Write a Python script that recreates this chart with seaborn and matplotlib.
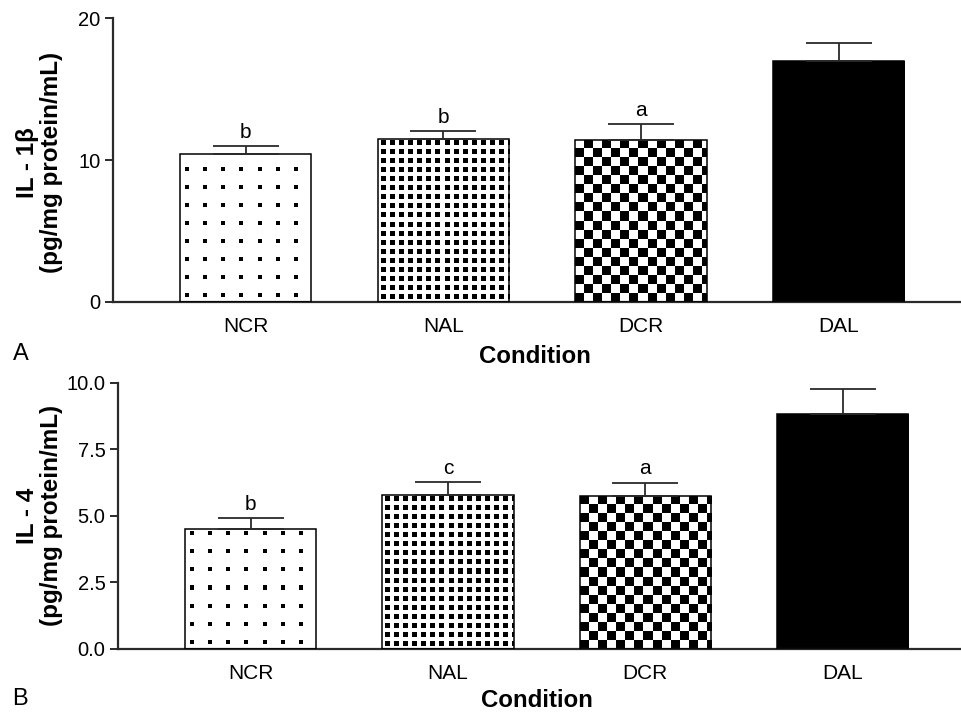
import numpy as np
import pandas as pd
import matplotlib
matplotlib.use("Agg")
import matplotlib.pyplot as plt
import seaborn as sns
from matplotlib.ticker import FormatStrFormatter

sns.set_style("white")
plt.rcParams['font.family'] = ['Liberation Sans', 'DejaVu Sans']
plt.rcParams['text.color'] = 'black'
plt.rcParams['axes.labelcolor'] = 'black'
plt.rcParams['xtick.color'] = 'black'
plt.rcParams['ytick.color'] = 'black'

# ---- data ----
categories = ["NCR", "NAL", "DCR", "DAL"]
il1b_mean = [10.42, 11.48, 11.43, 16.95]
il1b_sem = [0.57, 0.56, 1.11, 1.31]
il1b_letters = ["b", "b", "a", ""]
il4_mean = [4.51, 5.79, 5.76, 8.81]
il4_sem = [0.42, 0.47, 0.49, 0.95]
il4_letters = ["b", "c", "a", ""]
patterns = ["sparse", "dense", "checker", "solid"]

W, H = 961, 715
fig = plt.figure(figsize=(W / 100, H / 100), dpi=100)
ax1 = fig.add_axes([113 / W, 1 - 302 / H, (W - 113) / W, (302 - 18) / H])
ax2 = fig.add_axes([118 / W, 1 - 649 / H, (W - 118) / W, (649 - 382.7) / H])

spine_c = "#2a2a2a"


def texture(h, w, kind):
    yy, xx = np.mgrid[0:h, 0:w]
    img = np.ones((h, w, 3))
    if kind == "sparse":
        m = ((xx - 5) % 18 < 4) & ((yy - 5) % 18 < 4)
    elif kind == "dense":
        m = ((xx - 3) % 9 < 5) & ((yy - 3) % 9 < 5)
    elif kind == "checker":
        m = ((xx // 9) + (yy // 9)) % 2 == 0
    else:
        m = np.ones((h, w), bool)
    img[m] = 0.0
    return img


def panel(ax, means, sems, letters, ylabel, ylim, yticks, fmt, xlim):
    df = pd.DataFrame({"Condition": categories, "value": means})
    sns.barplot(data=df, x="Condition", y="value", hue="Condition",
                palette=["white"] * 4, width=0.665, edgecolor="black",
                linewidth=1.1, errorbar=None, legend=False, ax=ax, zorder=2)
    ax.set_ylim(*ylim)
    ax.set_xlim(*xlim)
    ax.set_yticks(yticks)
    ax.yaxis.set_major_formatter(FormatStrFormatter(fmt))
    bars = [c[0] for c in ax.containers]
    xs = []
    for bar, kind in zip(bars, patterns):
        x0, y0 = bar.get_x(), bar.get_y()
        bw, bh = bar.get_width(), bar.get_height()
        xs.append(x0 + bw / 2)
        p0 = ax.transData.transform((x0, y0))
        p1 = ax.transData.transform((x0 + bw, y0 + bh))
        wpx = max(int(round(p1[0] - p0[0])), 1)
        hpx = max(int(round(p1[1] - p0[1])), 1)
        im = ax.imshow(texture(hpx, wpx, kind), extent=(x0, x0 + bw, y0, y0 + bh),
                       origin="lower", interpolation="none", aspect="auto",
                       zorder=2)
        im.set_clip_path(bar)
        bar.set_facecolor("none")
        bar.set_zorder(3)
    ax.set_aspect("auto")
    ax.set_ylim(*ylim)
    ax.set_xlim(*xlim)
    ax.errorbar(xs, means, yerr=[np.zeros(len(means)), sems], fmt="none",
                ecolor=spine_c, elinewidth=1.3, capsize=23.5, capthick=1.3,
                zorder=4)
    for x, m, s, t in zip(xs, means, sems, letters):
        if t:
            ax.annotate(t, (x, m + s), xytext=(0, 3), textcoords="offset points",
                        ha="center", va="bottom", fontsize=15)
    for s in ["top", "right"]:
        ax.spines[s].set_visible(False)
    for s in ["left", "bottom"]:
        ax.spines[s].set_color(spine_c)
        ax.spines[s].set_linewidth(1.6)
    ax.tick_params(axis="y", direction="out", length=6, width=1.4, color=spine_c,
                   pad=3, labelsize=14.5, left=True)
    ax.tick_params(axis="x", length=0, pad=11, labelsize=15)
    ax.set_ylabel(ylabel, fontsize=17.5, fontweight="bold", linespacing=1.05)
    ax.set_xlabel("Condition", fontsize=17.3, fontweight="bold")
    ax.grid(False)


panel(ax1, il1b_mean, il1b_sem, il1b_letters, "IL - 1β\n(pg/mg protein/mL)",
      (0, 20), [0, 10, 20], "%d", (-0.672, 3.62))
panel(ax2, il4_mean, il4_sem, il4_letters, "IL - 4\n(pg/mg protein/mL)",
      (0, 10), [0, 2.5, 5, 7.5, 10], "%.1f", (-0.672, 3.6))

ax1.yaxis.set_label_coords(-0.059, 0.49)
ax2.yaxis.set_label_coords(-0.065, 0.5)
ax1.xaxis.set_label_coords(0.4975, -0.15)
ax2.xaxis.set_label_coords(0.497, -0.15)

fig.text(13 / W, 1 - 343 / H, "A", ha="left", va="top", fontsize=17)
fig.text(12 / W, 1 - 688 / H, "B", ha="left", va="top", fontsize=17)

fig.savefig("out.png", dpi=100)
